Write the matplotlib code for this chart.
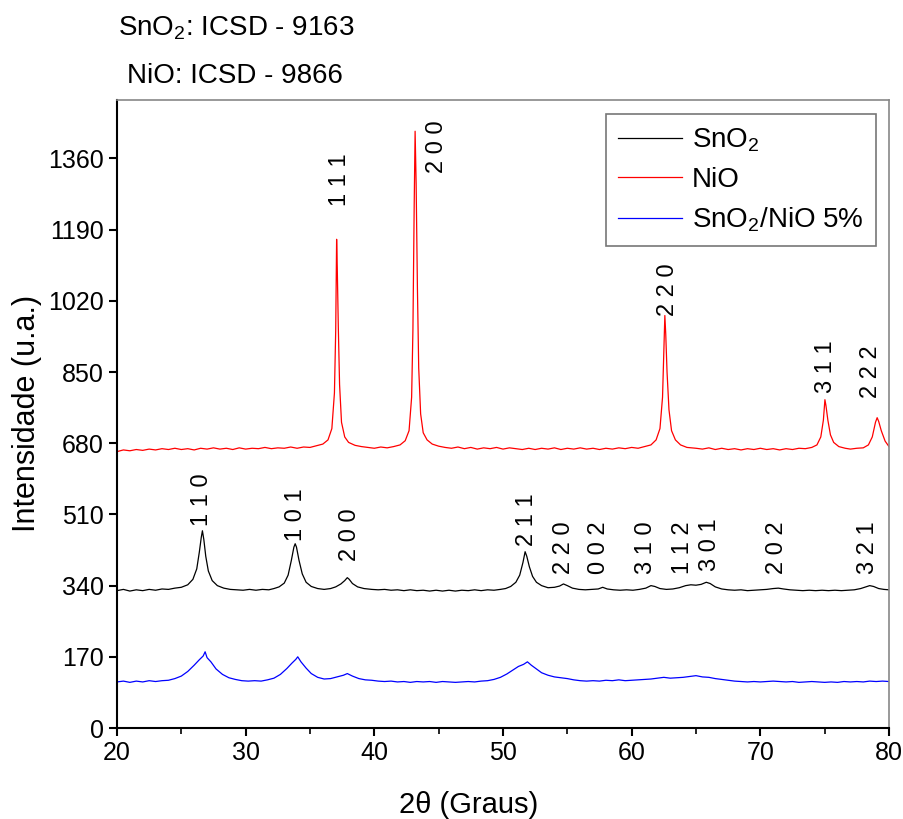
import matplotlib
matplotlib.use("Agg")
import matplotlib.pyplot as plt
from matplotlib.ticker import MultipleLocator

plt.rcParams['font.family'] = ['Liberation Sans', 'DejaVu Sans']
plt.rcParams['mathtext.fontset'] = 'custom'
plt.rcParams['mathtext.rm'] = 'Liberation Sans'
plt.rcParams['mathtext.it'] = 'Liberation Sans:italic'

# NiO pattern (2theta, intensity)
nio_x = [20.0, 20.5, 21.0, 21.5, 22.0, 22.5, 23.0, 23.5, 24.0, 24.5, 25.0, 25.5, 26.0, 26.5, 27.0, 27.5,
         28.0, 28.5, 29.0, 29.5, 30.0, 30.5, 31.0, 31.5, 32.0, 32.5, 33.0, 33.5, 34.0, 34.5, 35.0, 35.5,
         36.0, 36.4, 36.7, 36.9, 37.0, 37.07, 37.12, 37.2, 37.3, 37.45, 37.7, 38.0, 38.5, 39.0, 39.5, 40.0,
         40.5, 41.0, 41.5, 42.0, 42.4, 42.7, 42.9, 43.0, 43.1, 43.17, 43.25, 43.35, 43.45, 43.6, 43.8, 44.1,
         44.5, 45.0, 45.5, 46.0, 46.5, 47.0, 47.5, 48.0, 48.5, 49.0, 49.5, 50.0, 50.5, 51.0, 51.5, 52.0,
         52.5, 53.0, 53.5, 54.0, 54.5, 55.0, 55.5, 56.0, 56.5, 57.0, 57.5, 58.0, 58.5, 59.0, 59.5, 60.0,
         60.5, 61.0, 61.5, 61.9, 62.2, 62.4, 62.5, 62.58, 62.65, 62.75, 62.9, 63.1, 63.4, 63.8, 64.3, 65.0,
         65.5, 66.0, 66.5, 67.0, 67.5, 68.0, 68.5, 69.0, 69.5, 70.0, 70.5, 71.0, 71.5, 72.0, 72.5, 73.0,
         73.5, 74.0, 74.4, 74.7, 74.9, 75.02, 75.1, 75.25, 75.45, 75.7, 76.1, 76.6, 77.0, 77.5, 78.0, 78.4,
         78.7, 78.95, 79.08, 79.2, 79.4, 79.7, 80.0]
nio_y = [660, 664, 662, 665, 663, 666, 664, 667, 665, 668, 665, 667, 664, 668, 666, 669,
         666, 668, 665, 669, 666, 668, 667, 670, 667, 669, 668, 671, 668, 671, 670, 674,
         678, 688, 715, 800, 950, 1167, 1100, 960, 820, 730, 695, 682, 675, 672, 670, 668,
         671, 669, 672, 676, 686, 710, 790, 950, 1250, 1425, 1300, 1050, 860, 750, 705, 688,
         678, 673, 670, 668, 671, 667, 670, 666, 669, 667, 670, 666, 669, 667, 665, 668,
         665, 668, 666, 669, 665, 668, 666, 669, 666, 668, 665, 668, 666, 669, 667, 670,
         668, 672, 676, 688, 715, 790, 900, 985, 940, 850, 760, 710, 688, 676, 670, 668,
         666, 669, 665, 668, 665, 667, 664, 667, 665, 668, 665, 667, 664, 667, 665, 668,
         667, 670, 676, 695, 735, 784, 770, 735, 700, 682, 672, 668, 666, 668, 669, 676,
         695, 730, 741, 732, 710, 685, 672]

# SnO2 pattern
sno2_x = [20.0, 20.5, 21.0, 21.5, 22.0, 22.5, 23.0, 23.5, 24.0, 24.5, 25.0, 25.5, 25.9, 26.2, 26.4, 26.55,
          26.64, 26.75, 26.9, 27.1, 27.4, 27.8, 28.3, 28.8, 29.3, 29.8, 30.3, 30.8, 31.3, 31.8, 32.2, 32.6,
          33.0, 33.3, 33.55, 33.75, 33.85, 33.95, 34.15, 34.4, 34.7, 35.1, 35.6, 36.1, 36.6, 37.0, 37.4, 37.7,
          37.9, 38.05, 38.3, 38.7, 39.2, 39.8, 40.3, 40.8, 41.3, 41.8, 42.3, 42.8, 43.3, 43.8, 44.3, 44.8,
          45.3, 45.8, 46.3, 46.8, 47.3, 47.8, 48.3, 48.8, 49.3, 49.8, 50.2, 50.6, 51.0, 51.3, 51.55, 51.72,
          51.85, 52.05, 52.3, 52.6, 53.0, 53.5, 54.0, 54.4, 54.7, 55.0, 55.4, 55.9, 56.4, 56.9, 57.4, 57.75,
          58.1, 58.6, 59.1, 59.6, 60.1, 60.6, 61.1, 61.5, 61.8, 62.2, 62.7, 63.2, 63.7, 64.2, 64.6, 65.0,
          65.4, 65.8, 66.1, 66.5, 67.0, 67.5, 68.0, 68.5, 69.0, 69.5, 70.0, 70.5, 71.0, 71.4, 71.8, 72.3,
          72.8, 73.3, 73.8, 74.3, 74.8, 75.3, 75.8, 76.3, 76.8, 77.3, 77.8, 78.2, 78.5, 78.8, 79.2, 79.6, 80.0]
sno2_y = [328, 331, 327, 330, 328, 331, 329, 332, 331, 334, 336, 342, 355, 380, 420, 455,
          471, 450, 410, 375, 352, 340, 334, 331, 330, 329, 331, 329, 331, 330, 333, 337,
          346, 365, 400, 432, 440, 432, 400, 368, 348, 338, 333, 331, 333, 337, 344, 352,
          359, 355, 345, 337, 333, 331, 330, 331, 329, 330, 328, 330, 328, 329, 327, 329,
          327, 329, 327, 329, 328, 330, 328, 330, 329, 331, 333, 338, 348, 365, 395, 421,
          410, 385, 362, 348, 340, 335, 336, 339, 344, 340, 334, 331, 330, 331, 332, 336,
          332, 330, 329, 330, 329, 331, 334, 340, 338, 333, 331, 332, 335, 340, 342, 341,
          343, 348, 345, 337, 332, 330, 329, 330, 328, 329, 330, 331, 333, 334, 332, 330,
          329, 328, 329, 328, 329, 328, 329, 328, 329, 330, 333, 337, 340, 338, 333, 331, 330]

# SnO2/NiO 5% pattern
mix_x = [20.0, 20.5, 21.0, 21.5, 22.0, 22.5, 23.0, 23.5, 24.0, 24.5, 25.0, 25.5, 26.0, 26.4, 26.7, 26.85,
         27.0, 27.3, 27.7, 28.2, 28.7, 29.2, 29.7, 30.2, 30.7, 31.2, 31.7, 32.2, 32.7, 33.2, 33.6, 33.9,
         34.05, 34.3, 34.7, 35.1, 35.6, 36.1, 36.6, 37.1, 37.6, 37.9, 38.3, 38.8, 39.3, 39.8, 40.3, 40.8,
         41.3, 41.8, 42.3, 42.8, 43.3, 43.8, 44.3, 44.8, 45.3, 45.8, 46.3, 46.8, 47.3, 47.8, 48.3, 48.8,
         49.3, 49.8, 50.3, 50.8, 51.2, 51.6, 51.9, 52.2, 52.6, 53.0, 53.5, 54.0, 54.5, 55.0, 55.5, 56.0,
         56.5, 57.0, 57.5, 58.0, 58.5, 59.0, 59.5, 60.0, 60.5, 61.0, 61.5, 62.0, 62.5, 63.0, 63.5, 64.0,
         64.5, 65.0, 65.5, 66.0, 66.5, 67.0, 67.5, 68.0, 68.5, 69.0, 69.5, 70.0, 70.5, 71.0, 71.5, 72.0,
         72.5, 73.0, 73.5, 74.0, 74.5, 75.0, 75.5, 76.0, 76.5, 77.0, 77.5, 78.0, 78.5, 79.0, 79.5, 80.0]
mix_y = [110, 112, 109, 112, 110, 113, 111, 113, 114, 118, 124, 135, 150, 163, 172, 182,
         168, 158, 141, 128, 120, 116, 113, 112, 113, 112, 115, 119, 128, 142, 155, 164,
         170, 158, 143, 130, 121, 117, 118, 122, 126, 130, 124, 118, 115, 114, 112, 111,
         112, 110, 111, 109, 111, 110, 111, 109, 111, 110, 109, 110, 111, 110, 112, 113,
         116, 121, 129, 139, 147, 152, 158, 150, 141, 132, 126, 122, 120, 118, 115, 113,
         112, 113, 112, 114, 113, 115, 113, 114, 115, 116, 117, 119, 121, 119, 120, 121,
         123, 125, 122, 121, 118, 116, 114, 112, 111, 110, 111, 110, 111, 112, 111, 110,
         111, 109, 110, 111, 110, 109, 110, 109, 111, 110, 111, 110, 112, 111, 112, 111]

# Miller index labels: (text, 2theta, intensity)
nio_hkl = ["1 1 1", "2 0 0", "2 2 0", "3 1 1", "2 2 2"]
nio_hkl_x = [37.3, 44.9, 62.8, 75.1, 78.6]
nio_hkl_y = [1310, 1389, 1047, 863, 851]
sno2_hkl = ["1 1 0", "1 0 1", "2 0 0", "2 1 1", "2 2 0", "0 0 2", "3 1 0", "1 1 2", "3 0 1", "2 0 2", "3 2 1"]
sno2_hkl_x = [26.6, 33.9, 38.1, 51.9, 54.75, 57.5, 61.1, 64.0, 66.1, 71.3, 78.4]
sno2_hkl_y = [545, 509, 461, 497, 430, 430, 430, 430, 437, 430, 430]

fig = plt.figure(figsize=(9.04, 8.19), dpi=100)
ax = fig.add_axes([0.1294, 0.1111, 0.854, 0.767])

ax.plot(sno2_x, sno2_y, color='black', lw=0.9, label='SnO$_2$')
ax.plot(nio_x, nio_y, color='#ff0000', lw=0.9, label='NiO')
ax.plot(mix_x, mix_y, color='#0000ff', lw=0.9, label='SnO$_2$/NiO 5%')

for t, x, y in zip(nio_hkl, nio_hkl_x, nio_hkl_y):
    ax.text(x, y, t, rotation=90, ha='center', va='center', fontsize=17)
for t, x, y in zip(sno2_hkl, sno2_hkl_x, sno2_hkl_y):
    ax.text(x, y, t, rotation=90, ha='center', va='center', fontsize=17)

ax.set_xlim(20, 80)
ax.set_ylim(0, 1500)
ax.xaxis.set_major_locator(MultipleLocator(10))
ax.xaxis.set_minor_locator(MultipleLocator(5))
ax.set_yticks([0, 170, 340, 510, 680, 850, 1020, 1190, 1360])
ax.tick_params(axis='both', which='major', direction='out', length=6, width=1.5, labelsize=18)
ax.tick_params(axis='x', which='minor', direction='out', length=4, width=1.2)
for s in ['left', 'bottom']:
    ax.spines[s].set_linewidth(1.5)
for s in ['top', 'right']:
    ax.spines[s].set_color('#888888')
    ax.spines[s].set_linewidth(1.2)

ax.set_xlabel('2θ (Graus)', fontsize=21)
ax.xaxis.set_label_coords(0.455, -0.123)
ax.xaxis.label.set_va('center')
ax.set_ylabel('Intensidade (u.a.)', fontsize=22, labelpad=4)

leg = ax.legend(loc='upper right', fontsize=20, frameon=True, fancybox=False,
                handlelength=2.3, handletextpad=0.35, borderpad=0.45, labelspacing=0.45,
                bbox_to_anchor=(0.983, 0.977), borderaxespad=0.0)
leg.get_frame().set_edgecolor('#555555')
leg.get_frame().set_linewidth(1.2)

fig.text(0.131, 1 - 28 / 819, 'SnO$_2$: ICSD - 9163', fontsize=20, va='center')
fig.text(0.141, 1 - 76 / 819, 'NiO: ICSD - 9866', fontsize=20, va='center')

fig.savefig('out.png', dpi=100)
